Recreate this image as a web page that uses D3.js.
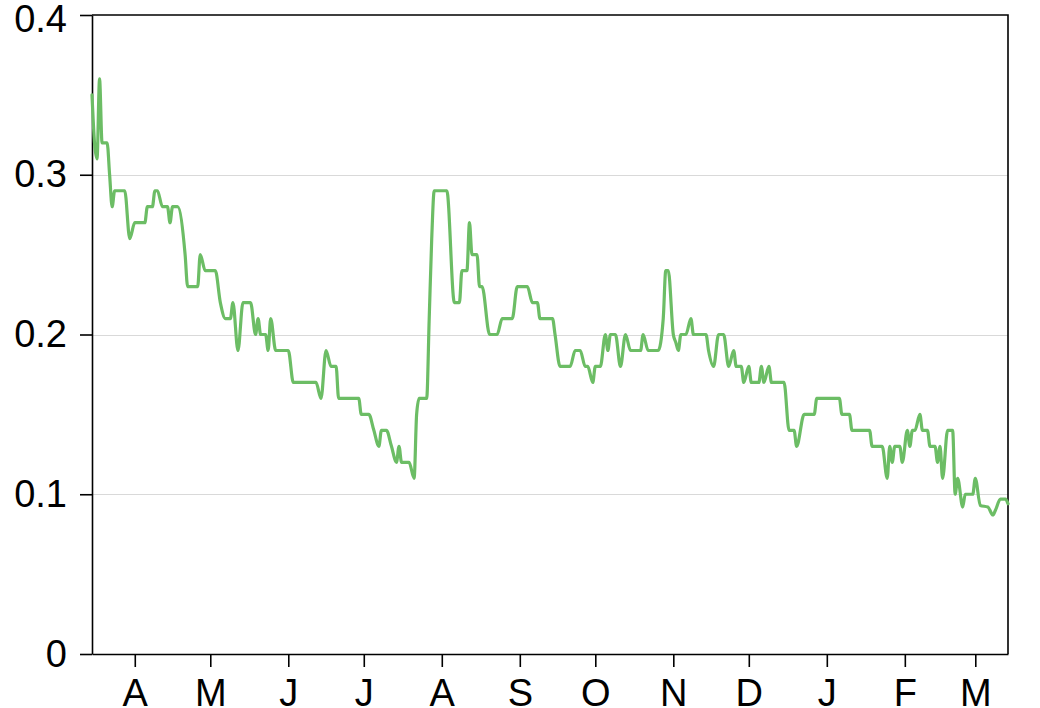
<!DOCTYPE html>
<html>
<head>
<meta charset="utf-8">
<script src="https://cdn.jsdelivr.net/npm/d3@7"></script>
<style>
  body { margin: 0; background: #fff; }
  svg { display: block; }
</style>
</head>
<body>
<div id="chart"></div>
<script>
/* data: vertices of the line */
var dates = [
	"2018-03-15", "2018-03-16", "2018-03-17", "2018-03-18", "2018-03-19", "2018-03-21", "2018-03-22", "2018-03-23",
	"2018-03-24", "2018-03-28", "2018-03-30", "2018-04-01", "2018-04-05", "2018-04-06", "2018-04-08", "2018-04-09",
	"2018-04-10", "2018-04-12", "2018-04-14", "2018-04-15", "2018-04-16", "2018-04-18", "2018-04-21", "2018-04-22",
	"2018-04-26", "2018-04-27", "2018-04-29", "2018-05-03", "2018-05-05", "2018-05-07", "2018-05-09", "2018-05-10",
	"2018-05-12", "2018-05-14", "2018-05-17", "2018-05-19", "2018-05-20", "2018-05-21", "2018-05-23", "2018-05-24",
	"2018-05-25", "2018-05-27", "2018-06-01", "2018-06-03", "2018-06-12", "2018-06-14", "2018-06-16", "2018-06-18",
	"2018-06-20", "2018-06-21", "2018-06-29", "2018-06-30", "2018-07-03", "2018-07-05", "2018-07-07", "2018-07-08",
	"2018-07-10", "2018-07-12", "2018-07-14", "2018-07-15", "2018-07-16", "2018-07-19", "2018-07-21", "2018-07-22",
	"2018-07-23", "2018-07-26", "2018-07-27", "2018-07-28", "2018-07-29", "2018-08-03", "2018-08-06", "2018-08-08",
	"2018-08-09", "2018-08-11", "2018-08-12", "2018-08-13", "2018-08-15", "2018-08-16", "2018-08-17", "2018-08-20",
	"2018-08-23", "2018-08-25", "2018-08-29", "2018-08-31", "2018-09-04", "2018-09-06", "2018-09-08", "2018-09-09",
	"2018-09-14", "2018-09-15", "2018-09-17", "2018-09-21", "2018-09-23", "2018-09-25", "2018-09-27", "2018-09-28",
	"2018-09-30", "2018-10-01", "2018-10-03", "2018-10-05", "2018-10-06", "2018-10-07", "2018-10-09", "2018-10-11",
	"2018-10-13", "2018-10-15", "2018-10-19", "2018-10-20", "2018-10-22", "2018-10-26", "2018-10-28", "2018-10-29",
	"2018-10-30", "2018-11-01", "2018-11-02", "2018-11-03", "2018-11-04", "2018-11-06", "2018-11-08", "2018-11-09",
	"2018-11-14", "2018-11-15", "2018-11-17", "2018-11-19", "2018-11-21", "2018-11-23", "2018-11-25", "2018-11-26",
	"2018-11-28", "2018-11-29", "2018-12-01", "2018-12-02", "2018-12-05", "2018-12-06", "2018-12-07", "2018-12-09",
	"2018-12-10", "2018-12-15", "2018-12-17", "2018-12-19", "2018-12-20", "2018-12-23", "2018-12-27", "2018-12-28",
	"2019-01-06", "2019-01-07", "2019-01-10", "2019-01-11", "2019-01-18", "2019-01-19", "2019-01-23", "2019-01-25",
	"2019-01-26", "2019-01-27", "2019-01-28", "2019-01-30", "2019-01-31", "2019-02-02", "2019-02-03", "2019-02-04",
	"2019-02-05", "2019-02-07", "2019-02-08", "2019-02-10", "2019-02-11", "2019-02-13", "2019-02-14", "2019-02-15",
	"2019-02-16", "2019-02-18", "2019-02-20", "2019-02-21", "2019-02-22", "2019-02-24", "2019-02-25", "2019-02-28",
	"2019-03-01", "2019-03-03", "2019-03-06", "2019-03-08", "2019-03-09", "2019-03-11", "2019-03-13", "2019-03-14"
];

var values = [
	0.35, 0.32, 0.31, 0.36, 0.32, 0.32, 0.30, 0.28,
	0.29, 0.29, 0.26, 0.27, 0.27, 0.28, 0.28, 0.29,
	0.29, 0.28, 0.28, 0.27, 0.28, 0.28, 0.25, 0.23,
	0.23, 0.25, 0.24, 0.24, 0.22, 0.21, 0.21, 0.22,
	0.19, 0.22, 0.22, 0.20, 0.21, 0.20, 0.20, 0.19,
	0.21, 0.19, 0.19, 0.17, 0.17, 0.16, 0.19, 0.18,
	0.18, 0.16, 0.16, 0.15, 0.15, 0.14, 0.13, 0.14,
	0.14, 0.13, 0.12, 0.13, 0.12, 0.12, 0.11, 0.15,
	0.16, 0.16, 0.21, 0.26, 0.29, 0.29, 0.22, 0.22,
	0.24, 0.24, 0.27, 0.25, 0.25, 0.23, 0.23, 0.20,
	0.20, 0.21, 0.21, 0.23, 0.23, 0.22, 0.22, 0.21,
	0.21, 0.20, 0.18, 0.18, 0.19, 0.19, 0.18, 0.18,
	0.17, 0.18, 0.18, 0.20, 0.19, 0.20, 0.20, 0.18,
	0.20, 0.19, 0.19, 0.20, 0.19, 0.19, 0.21, 0.24,
	0.24, 0.20, 0.195, 0.19, 0.20, 0.20, 0.21, 0.20,
	0.20, 0.19, 0.18, 0.20, 0.20, 0.18, 0.19, 0.18,
	0.18, 0.17, 0.18, 0.17, 0.17, 0.18, 0.17, 0.18,
	0.17, 0.17, 0.14, 0.14, 0.13, 0.15, 0.15, 0.16,
	0.16, 0.15, 0.15, 0.14, 0.14, 0.13, 0.13, 0.11,
	0.13, 0.12, 0.13, 0.13, 0.12, 0.14, 0.13, 0.14,
	0.14, 0.15, 0.14, 0.14, 0.13, 0.13, 0.12, 0.13,
	0.11, 0.14, 0.14, 0.10, 0.11, 0.092, 0.10, 0.10,
	0.11, 0.093, 0.092, 0.087, 0.09, 0.097, 0.097, 0.094
];

var yTicks = [0, 0.1, 0.2, 0.3, 0.4];
var yGrid = [0.1, 0.2, 0.3];
var xStart = "2018-03-15",
    xEnd = "2019-03-14";

var drawChart = function(htmlID) {

	var width = 1040,
	    height = 708,
	    left = 92,
	    right = 1008,
	    top = 15,
	    bottom = 654,
	    fontSize = 38,
	    lineColor = "#6cbd65";

	var parse = d3.timeParse("%Y-%m-%d");

	var data = dates.map(function(d, i) { return { date: parse(d), value: values[i] }; });

	var svg = d3.select(htmlID)
	            .append("svg")
	            .attr("width", width)
	            .attr("height", height);

	var x = d3.scaleTime()
	          .domain([parse(xStart), parse(xEnd)])
	          .range([left, right]);

	var y = d3.scaleLinear()
	          .domain([0, 0.4])
	          .range([bottom, top]);

	/* grid lines */
	svg.append("g")
	    .selectAll("line")
	    .data(yGrid)
	    .enter().append("line")
	        .attr("x1", left)
	        .attr("x2", right)
	        .attr("y1", function(d) { return Math.round(y(d)) + 0.5; })
	        .attr("y2", function(d) { return Math.round(y(d)) + 0.5; })
	        .attr("stroke", "#d9d9d9")
	        .attr("stroke-width", 1);

	/* frame: top and right edges */
	svg.append("path")
	    .attr("d", "M" + left + "," + top + "H" + right + "V" + bottom)
	    .attr("fill", "none")
	    .attr("stroke", "#000")
	    .attr("stroke-width", 1.6);

	/* y axis */
	var yAxis = svg.append("g")
	    .attr("transform", "translate(" + left + ",0)")
	    .call(d3.axisLeft(y)
	        .tickValues(yTicks)
	        .tickSize(12)
	        .tickSizeOuter(0)
	        .tickPadding(13)
	        .tickFormat(function(d) { return d === 0 ? "0" : d3.format(".1f")(d); }));

	/* top label sits a little lower so it stays inside the page */
	yAxis.selectAll(".tick text")
	    .filter(function(d) { return d === 0.4; })
	    .attr("y", 4);

	/* x axis */
	var xAxis = svg.append("g")
	    .attr("transform", "translate(0," + bottom + ")")
	    .call(d3.axisBottom(x)
	        .ticks(d3.timeMonth.every(1))
	        .tickSize(13)
	        .tickSizeOuter(0)
	        .tickPadding(12)
	        .tickFormat(function(d) { return d3.timeFormat("%B")(d).charAt(0); }));

	[yAxis, xAxis].forEach(function(g) {
		g.selectAll("path, line")
		    .attr("stroke", "#000")
		    .attr("stroke-width", 1.6);
		g.selectAll("text")
		    .attr("fill", "#000")
		    .attr("font-family", "'Liberation Sans', Arial, Helvetica, sans-serif")
		    .attr("font-size", fontSize);
	});

	/* the series */
	var line = d3.line()
	    .curve(d3.curveMonotoneX)
	    .x(function(d) { return x(d.date); })
	    .y(function(d) { return y(d.value); });

	svg.append("path")
	    .datum(data)
	    .attr("d", line)
	    .attr("fill", "none")
	    .attr("stroke", lineColor)
	    .attr("stroke-width", 3.2)
	    .attr("stroke-linejoin", "round")
	    .attr("stroke-linecap", "round");
}

drawChart("#chart");
</script>
</body>
</html>
